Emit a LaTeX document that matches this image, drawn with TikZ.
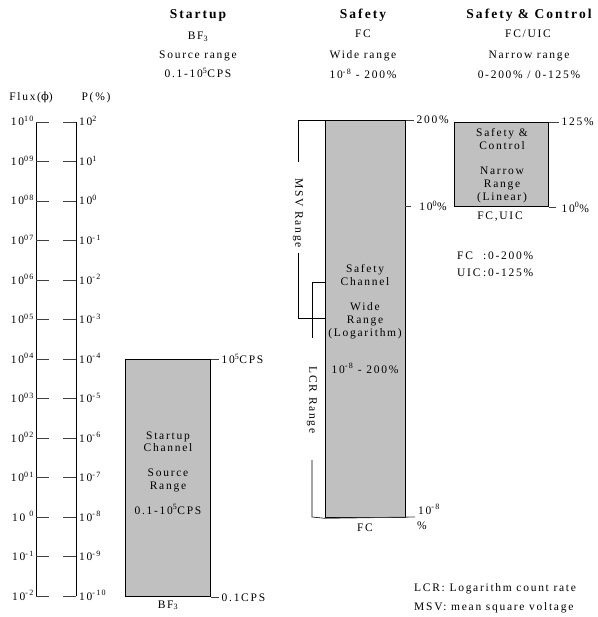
\documentclass[tikz,border=0pt]{standalone}
\usepackage{fontspec}
\setmainfont{Liberation Serif}[LetterSpace=15]
\newfontfamily\phifont{DejaVu Serif}
\newcommand{\sups}[1]{\textsuperscript{#1}}
\definecolor{boxgray}{HTML}{C0C0C0}
\definecolor{tickgray}{HTML}{404040}
\tikzset{
  lbl/.style={font=\fontsize{11.5}{13.5}\selectfont, inner sep=0pt, anchor=base},
  hdr/.style={font=\fontsize{13.5}{15}\selectfont\bfseries, inner sep=0pt, anchor=base},
  chan/.style={draw=black, line width=1.3pt, fill=boxgray},
  tickln/.style={line width=0.8pt, draw=tickgray},
  axisln/.style={line width=0.8pt, draw=black},
  brk/.style={line width=0.6pt, draw=black},
}
\begin{document}
\begin{tikzpicture}[x=1pt,y=-1pt]
\useasboundingbox (0,0) rectangle (597,617);

% headers
\node[hdr] (h1) at (198,19) {Startup};
\node[lbl] (h1a) at (198,40) {BF\textsubscript{3}};
\node[lbl] (h1b) at (198,59) {Source range};
\node[lbl] (h1c) at (198,78) {0.1-10\sups{5}CPS};
\node[hdr] (h2) at (363,19) {Safety};
\node[lbl] (h2a) at (363,38) {FC};
\node[lbl] (h2b) at (363,59) {Wide range};
\node[lbl] (h2c) at (363,79) {10\sups{-8} - 200\%};
\node[hdr] (h3) at (529,19) {Safety \& Control};
\node[lbl] (h3a) at (528,38) {FC/UIC};
\node[lbl] (h3b) at (529,59) {Narrow range};
\node[lbl] (h3c) at (529,79) {0-200\% / 0-125\%};

% scale
\node[lbl] (flux) at (31,101) {Flux({\phifont ϕ})};
\node[lbl] (pp) at (96,101) {P(\%)};
\draw[axisln] (36,122) -- (36,596);
\draw[axisln] (76,122) -- (76,596);
\foreach \i/\fl/\pl in {0/{10\sups{10}}/{10\sups{2}},1/{10\sups{09}}/{10\sups{1}},2/{10\sups{08}}/{10\sups{0}},3/{10\sups{07}}/{10\sups{-1}},4/{10\sups{06}}/{10\sups{-2}},5/{10\sups{05}}/{10\sups{-3}},6/{10\sups{04}}/{10\sups{-4}},7/{10\sups{03}}/{10\sups{-5}},8/{10\sups{02}}/{10\sups{-6}},9/{10\sups{01}}/{10\sups{-7}},10/{10\hspace{4pt}\sups{0}}/{10\sups{-8}},11/{10\sups{-1}}/{10\sups{-9}},12/{10\sups{-2}}/{10\sups{-10}}} {
  \pgfmathsetmacro\yy{122+39.5*\i}
  \draw[tickln] (36,\yy) -- (49,\yy);
  \draw[tickln] (63,\yy) -- (76,\yy);
  \node[lbl, anchor=base east] (fl\i) at (34,\yy+4) {\fl};
  \node[lbl, anchor=base west] (pl\i) at (79,\yy+4) {\pl};
}

% startup channel
\node[chan, anchor=north west, minimum width=85pt, minimum height=237pt, inner sep=0pt] (su) at (125,359) {};
\node[lbl] (su1) at (168,439) {Startup};
\node[lbl] (su2) at (168,451.5) {Channel};
\node[lbl] (su3) at (168,476) {Source};
\node[lbl] (su4) at (168,489) {Range};
\node[lbl] (su5) at (168,514) {0.1-10\sups{5}CPS};
\draw[tickln] (su.north east) -- ++(8,0) node[lbl, anchor=west, inner sep=0pt, xshift=2pt] (su6) {10\sups{5}CPS};
\draw[tickln] (su.south east) -- ++(8,0) node[lbl, anchor=west, inner sep=0pt, xshift=2pt] (su7) {0.1CPS};
\node[lbl] (su8) at (168,608) {BF\textsubscript{3}};

% safety channel
\node[chan, anchor=north west, minimum width=80pt, minimum height=397pt, inner sep=0pt] (sf) at (325,120) {};
\node[lbl] (sf1) at (365,272) {Safety};
\node[lbl] (sf2) at (365,285) {Channel};
\node[lbl] (sf3) at (365,310) {Wide};
\node[lbl] (sf4) at (365,323) {Range};
\node[lbl] (sf5) at (365,336) {(Logarithm)};
\node[lbl] (sf6) at (365,373) {10\sups{-8} - 200\%};
\draw[tickln] (sf.north east) -- ++(8,0) node[lbl, anchor=west, inner sep=0pt, xshift=2pt] (sf7) {200\%};
\coordinate (sfmid) at (405,206);
\draw[tickln] (sfmid) -- ++(6,0) node[lbl, anchor=west, inner sep=0pt, xshift=8pt] (sf8) {10\sups{0}\%};
\node[lbl, anchor=base west] (sf9) at (418,514) {10\sups{-8}};
\node[lbl, anchor=base west] (sf10) at (417,529) {\%};
\node[lbl] (sf11) at (365,531) {FC};

% MSV bracket
\coordinate (msv1) at (298,120);
\coordinate (msv2) at (298,318);
\draw[brk] (sf.north west) -- (msv1) -- ++(0,42);
\draw[brk] (msv2) ++(0,-65) -- (msv2) -- (325,318);
\node[lbl, anchor=center, rotate=-90] (msv) at (298,213) {MSV Range};

% LCR bracket
\coordinate (lcr1) at (312,282);
\coordinate (lcr2) at (312,517);
\draw[brk] (325,282) -- (lcr1) -- ++(0,56);
\draw[brk] (lcr2) ++(0,-57) -- (lcr2) -- (sf.south west);
\draw[tickln] (sf.south west) -- (415,517);
\node[lbl, anchor=center, rotate=-90] (lcr) at (312,400) {LCR Range};

% safety & control channel
\node[chan, anchor=north west, minimum width=94pt, minimum height=84pt, inner sep=0pt] (sc) at (454,122) {};
\node[lbl] (sc1) at (502,137) {Safety \&};
\node[lbl] (sc2) at (502,150) {Control};
\node[lbl] (sc3) at (502,175) {Narrow};
\node[lbl] (sc4) at (502,188) {Range};
\node[lbl] (sc5) at (502,201) {(Linear)};
\draw[tickln] (sc.north east) -- ++(10,0) node[lbl, anchor=west, inner sep=0pt, xshift=2pt] (sc6) {125\%};
\draw[tickln] (sc.south east) -- ++(7,0) node[lbl, anchor=west, inner sep=0pt, xshift=5pt] (sc7) {10\sups{0}\%};
\node[lbl] (sc8) at (500,220) {FC,UIC};

\node[lbl, anchor=base west] (fc1) at (457,259) {FC};
\node[lbl, anchor=base west] (fc2) at (483,259) {:0-200\%};
\node[lbl, anchor=base west] (uic1) at (457,276) {UIC};
\node[lbl, anchor=base west] (uic2) at (483,276) {:0-125\%};

% legend
\node[lbl, anchor=base west] (leg1) at (414,591) {LCR: Logarithm count rate};
\node[lbl, anchor=base west] (leg2) at (414,610) {MSV: mean square voltage};
\end{tikzpicture}
\end{document}
